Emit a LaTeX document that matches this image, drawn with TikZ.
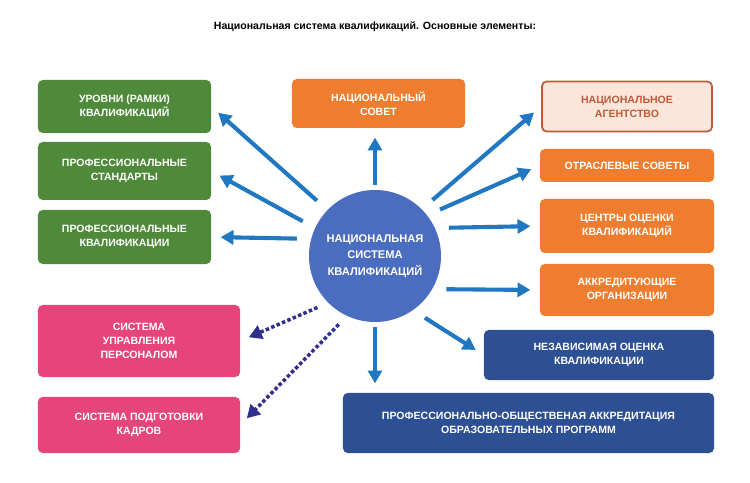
\documentclass[tikz,border=0pt]{standalone}
\usepackage{fontspec}
\setmainfont{Liberation Sans}
\usetikzlibrary{arrows.meta}

\definecolor{grn}{HTML}{4E8A3A}
\definecolor{org}{HTML}{EE7D2F}
\definecolor{pnk}{HTML}{E5457A}
\definecolor{dblue}{HTML}{2D4F93}
\definecolor{cblue}{HTML}{4A6DBF}
\definecolor{arrblue}{HTML}{1F78C1}
\definecolor{navy}{HTML}{2E2F8E}
\definecolor{agfill}{HTML}{FCE6DA}
\definecolor{agline}{HTML}{BF5A3A}

\tikzset{
    box/.style={rounded corners=4pt, text=white, align=center, font=\bfseries\fontsize{9}{12}\selectfont, inner sep=0pt},
    arr/.style={draw=arrblue, line width=3.5pt, -{Triangle[width=12pt,length=11pt]}, shorten <=12pt, shorten >=8pt},
    dots/.style={draw=navy, line width=3pt, dotted, -{Triangle[width=12pt,length=11pt]}, shorten <=10pt, shorten >=8pt}
}

\begin{document}
\begin{tikzpicture}[x=0.03cm, y=-0.03cm]
    \useasboundingbox (0,0) rectangle (750,483);
    \node[font=\bfseries\fontsize{9}{11}\selectfont] (title) at (375,27) {Национальная система квалификаций. Основные элементы:};

    % center
    \node[circle, fill=cblue, minimum size=3.96cm, text=white, align=center, font=\bfseries\fontsize{9.5}{14}\selectfont] (nsk) at (375,256) {НАЦИОНАЛЬНАЯ\\СИСТЕМА\\КВАЛИФИКАЦИЙ};

    % left boxes
    \node[box, fill=grn, minimum width=5.19cm, minimum height=1.59cm] (g1) at (124.5,106.5) {УРОВНИ (РАМКИ)\\КВАЛИФИКАЦИЙ};
    \node[box, fill=grn, minimum width=5.19cm, minimum height=1.74cm] (g2) at (124.5,171) {ПРОФЕССИОНАЛЬНЫЕ\\СТАНДАРТЫ};
    \node[box, fill=grn, minimum width=5.19cm, minimum height=1.62cm] (g3) at (124.5,237) {ПРОФЕССИОНАЛЬНЫЕ\\КВАЛИФИКАЦИИ};
    \node[box, fill=pnk, minimum width=6.06cm, minimum height=2.16cm] (p1) at (139,341) {СИСТЕМА\\УПРАВЛЕНИЯ\\ПЕРСОНАЛОМ};
    \node[box, fill=pnk, minimum width=6.06cm, minimum height=1.68cm] (p2) at (139,425) {СИСТЕМА ПОДГОТОВКИ\\КАДРОВ};

    % top and right boxes
    \node[box, fill=org, minimum width=5.19cm, minimum height=1.47cm] (ns) at (378.5,103.5) {НАЦИОНАЛЬНЫЙ\\СОВЕТ};
    \node[box, fill=agfill, draw=agline, line width=1.5pt, text=agline, minimum width=5.1cm, minimum height=1.5cm] (ag) at (627,106.5) {НАЦИОНАЛЬНОЕ\\АГЕНТСТВО};
    \node[box, fill=org, minimum width=5.22cm, minimum height=0.99cm] (ot) at (627,165.5) {ОТРАСЛЕВЫЕ СОВЕТЫ};
    \node[box, fill=org, minimum width=5.22cm, minimum height=1.62cm] (ce) at (627,226) {ЦЕНТРЫ ОЦЕНКИ\\КВАЛИФИКАЦИЙ};
    \node[box, fill=org, minimum width=5.22cm, minimum height=1.56cm] (ak) at (627,290) {АККРЕДИТУЮЩИЕ\\ОРГАНИЗАЦИИ};
    \node[box, fill=dblue, minimum width=6.9cm, minimum height=1.5cm] (in) at (599,355) {НЕЗАВИСИМАЯ ОЦЕНКА\\КВАЛИФИКАЦИИ};
    \node[box, fill=dblue, minimum width=11.13cm, minimum height=1.8cm] (po) at (528.5,423) {ПРОФЕССИОНАЛЬНО-ОБЩЕСТВЕНАЯ АККРЕДИТАЦИЯ\\ОБРАЗОВАТЕЛЬНЫХ ПРОГРАММ};

    % arrows
    \draw[arr] (nsk.136) -- (g1.east);
    \draw[arr] (nsk.155) -- (g2.east);
    \draw[arr] (nsk.165) -- (g3.east);
    \draw[arr, shorten <=4pt] (nsk.north) -- (ns.south -| nsk.north);
    \draw[arr] (nsk.45) -- (ag.west);
    \draw[arr] (nsk.38) -- (ot.west);
    \draw[arr] (nsk.25) -- (ce.west);
    \draw[arr] (nsk.-30) -- (ak.west);
    \draw[arr] (nsk.-55) -- (in.west);
    \draw[arr, shorten <=4pt] (nsk.south) -- (po.north -| nsk.south);
    \draw[dots] (nsk.-135) -- (p1.east);
    \draw[dots] (nsk.-115) -- (p2.east);
\end{tikzpicture}
\end{document}
